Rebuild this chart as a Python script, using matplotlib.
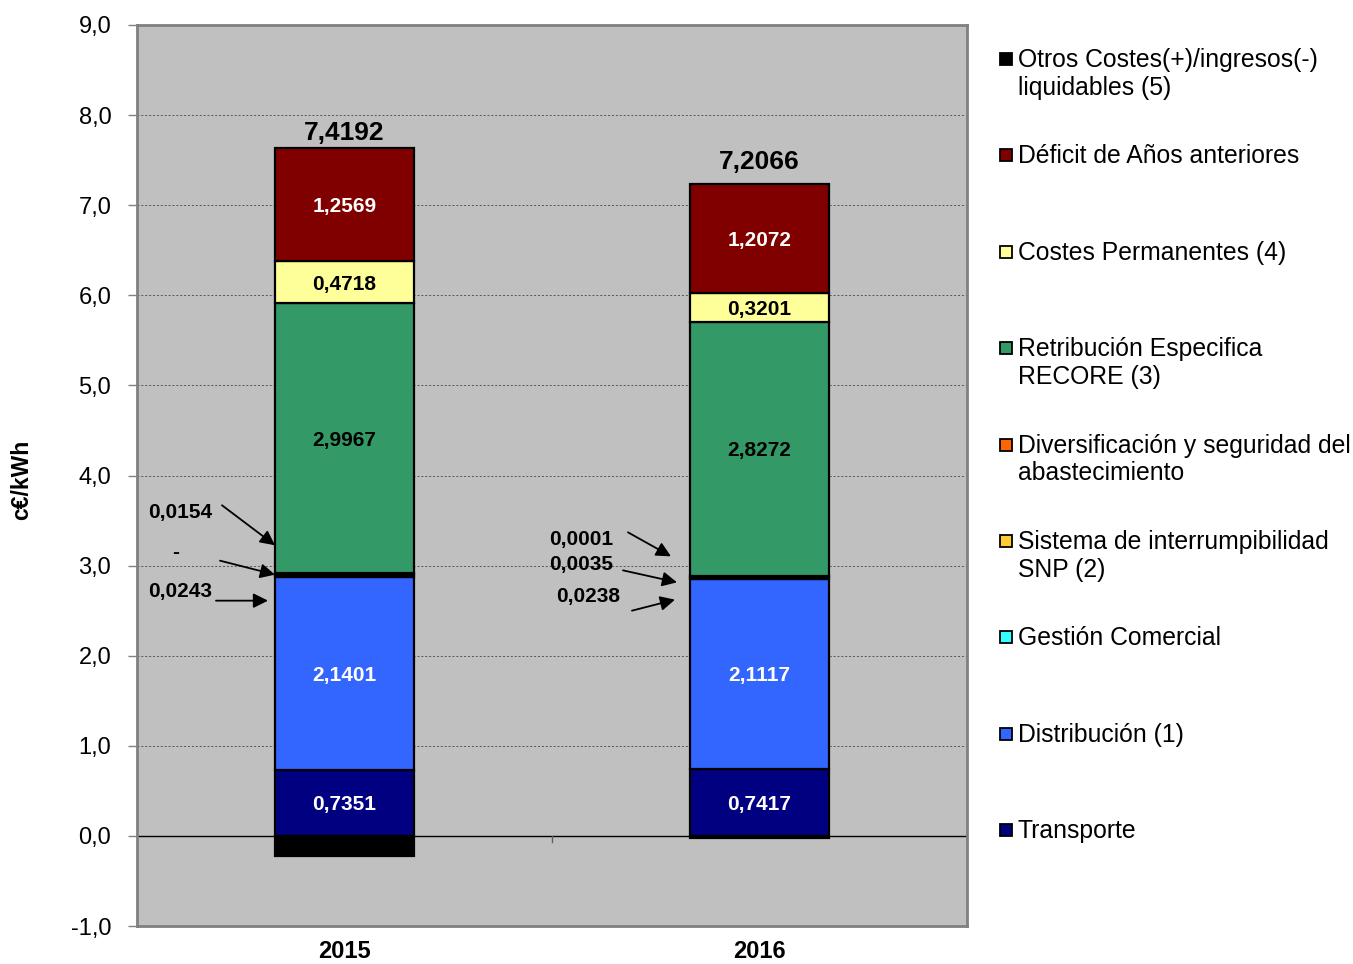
import matplotlib
matplotlib.use("Agg")
import matplotlib.pyplot as plt
from matplotlib.patches import Rectangle
from matplotlib.ticker import FuncFormatter, MultipleLocator
from matplotlib.transforms import offset_copy
import numpy as np

plt.rcParams['font.family'] = ['Liberation Sans', 'DejaVu Sans']

# ── Data (c€/kWh) ────────────────────────────────────────────────────
years = ["2015", "2016"]
series = [
    "Transporte",
    "Distribución (1)",
    "Gestión Comercial",
    "Sistema de interrumpibilidad\nSNP (2)",
    "Diversificación y seguridad del\nabastecimiento",
    "Retribución Especifica\nRECORE (3)",
    "Costes Permanentes (4)",
    "Déficit de Años anteriores",
    "Otros Costes(+)/ingresos(-)\nliquidables (5)",
]
transporte   = [0.7351, 0.7417]
distribucion = [2.1401, 2.1117]
gestion      = [0.0243, 0.0238]
snp          = [0.0000, 0.0035]
diversif     = [0.0154, 0.0001]
recore       = [2.9967, 2.8272]
permanentes  = [0.4718, 0.3201]
deficit      = [1.2569, 1.2072]
otros        = [-0.2211, -0.0287]
totals       = [7.4192, 7.2066]

values = [transporte, distribucion, gestion, snp, diversif,
          recore, permanentes, deficit, otros]
colors = ["#000080", "#3366FF", "#33FFFF", "#FFCC33", "#FF6600",
          "#339966", "#FFFF99", "#800000", "#000000"]
# label colour inside the segment (None = no label inside)
inner_label = ["white", "white", None, None, None, "black", "black", "white", None]

BAR_W = 0.335


def fmt(v):
    if v == 0:
        return "-"
    return f"{v:.4f}".replace(".", ",")


fig = plt.figure(figsize=(13.53, 9.64), dpi=100)
W, H = 1353, 964
ax = fig.add_axes([137 / W, 1 - 926 / H, 830 / W, 901 / H])
ax.set_facecolor("#C0C0C0")
ax.set_xlim(-0.5, 1.5)
ax.set_ylim(-1.0, 9.0)

ax.yaxis.set_major_locator(MultipleLocator(1.0))
ax.yaxis.set_major_formatter(FuncFormatter(lambda v, _: f"{v:.1f}".replace(".", ",")))
ax.grid(axis="y", color="#555555", linestyle=(0, (2, 2)), linewidth=0.7)
ax.set_axisbelow(True)
for s in ax.spines.values():
    s.set_color("#808080")
    s.set_linewidth(2)
ax.tick_params(axis="y", length=6.5, width=1, color="#808080",
               labelsize=17, pad=12)
ax.set_xticks(range(len(years)))
ax.set_xticklabels(years, fontsize=17, fontweight="bold")
ax.tick_params(axis="x", length=0, pad=10)

ax.set_ylabel("c€/kWh", fontsize=16.5, fontweight="bold")
ax.yaxis.set_label_coords(-0.125, 0.495)

# zero line + category separator tick
ax.axhline(0, color="black", linewidth=1, zorder=2)
for i in range(len(years) - 1):
    ax.plot([i + 0.5, i + 0.5], [0, -0.065], color="#606060", lw=1, zorder=2)

# ── Stacked bars ─────────────────────────────────────────────────────
x = np.arange(len(years))
pos_base = np.zeros(len(years))
neg_base = np.zeros(len(years))
tops = []
for vals, col, lab_col in zip(values, colors, inner_label):
    vals = np.array(vals)
    bottom = np.where(vals >= 0, pos_base, neg_base)
    ax.bar(x, vals, BAR_W, bottom=bottom, color=col, edgecolor="black",
           linewidth=1.6, zorder=3)
    if lab_col:
        for xi, b, v in zip(x, bottom, vals):
            ax.text(xi, b + v / 2, fmt(v), ha="center", va="center_baseline",
                    color=lab_col, fontsize=15, fontweight="bold", zorder=4)
    pos_base = pos_base + np.where(vals >= 0, vals, 0)
    neg_base = neg_base + np.where(vals < 0, vals, 0)
    tops.append(pos_base.copy())

# totals above bars
total_offset = [8, 15]
for xi, t, top, off in zip(x, totals, pos_base, total_offset):
    ax.annotate(fmt(t), xy=(xi, top), xytext=(0, off), textcoords="offset pixels",
                ha="center", va="baseline", fontsize=19, fontweight="bold")

# ── Small-value call-outs (series index, per-bar pixel offsets) ─────
# offsets relative to (bar left edge, top of the segment):
# (tip dx, tip dy, tail dx, tail dy, text dx, text dy)
callouts = {
    0: [(4, (0, 28, -53, 68, -95, 61)),
        (3, (0, 0, -55, 14, -99, 22)),
        (2, (-7, -26, -59, -26, -95, -17))],
    1: [(4, (-19, 20, -62, 44, -109, 37)),
        (3, (-13, -6, -67, 6, -109, 12)),
        (2, (-15, -23, -58, -34, -102, -20))],
}
for bi, items in callouts.items():
    left = x[bi] - BAR_W / 2
    for si, (tdx, tdy, ldx, ldy, xdx, xdy) in items:
        y_top = tops[si][bi]
        tr_tip = offset_copy(ax.transData, fig=fig, x=tdx, y=tdy, units="dots")
        ax.annotate("", xy=(left, y_top), xycoords=tr_tip,
                    xytext=(ldx - tdx, ldy - tdy), textcoords="offset pixels",
                    arrowprops=dict(arrowstyle="-|>", color="black", lw=1.3,
                                    mutation_scale=22, shrinkA=0, shrinkB=0),
                    zorder=5)
        tr_txt = offset_copy(ax.transData, fig=fig, x=xdx, y=xdy, units="dots")
        ax.text(left, y_top, fmt(values[si][bi]), transform=tr_txt,
                ha="center", va="center", fontsize=15, fontweight="bold", zorder=5)

# ── Legend (drawn manually, top entry = last series) ────────────────
base0, step, line_gap = 67, 96.4, 27.5
for k, si in enumerate(range(len(series) - 1, -1, -1)):
    yb = base0 + k * step
    fig.add_artist(Rectangle((1000 / W, 1 - (yb - 2) / H), 12 / W, 12 / H,
                             transform=fig.transFigure, facecolor=colors[si],
                             edgecolor="black", linewidth=1.3))
    for j, line in enumerate(series[si].split("\n")):
        fig.text(1018 / W, 1 - (yb + j * line_gap) / H, line, fontsize=17.8,
                 ha="left", va="baseline")

fig.savefig("out.png", dpi=100)
